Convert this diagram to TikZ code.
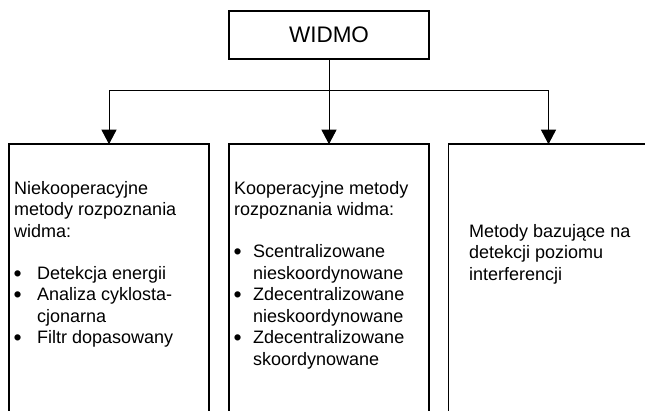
\documentclass[tikz,border=0pt]{standalone}
\usepackage{fontspec}
\setmainfont{Liberation Sans}
\usepackage{tikz}
\usetikzlibrary{arrows.meta,positioning}
\newcommand{\punkt}[1]{\makebox[#1][l]{\hspace*{-0.5pt}\raisebox{-1.6pt}{\fontsize{23}{0}\selectfont\textbullet}}}

\begin{document}
\begin{tikzpicture}[
    x=1pt, y=-1pt,
    topbox/.style={rectangle, draw, line width=1.6pt, minimum width=200pt,
        minimum height=48pt, inner sep=0pt, outer sep=0pt,
        font=\fontsize{22.5}{26}\selectfont},
    methodbox/.style={rectangle, draw, line width=1.6pt, minimum width=200pt,
        minimum height=320pt, inner sep=0pt, outer sep=0pt},
    desc/.style={align=left, inner sep=0pt, font=\fontsize{18}{21.5}\selectfont},
    arr/.style={-{Triangle[length=14.5pt, width=15pt]}, line width=1pt}
]
    \path[fill=white, use as bounding box] (0,0) rectangle (645,410);
    \clip (0,0) rectangle (645,410);

    \node[topbox] (widmo) at (329,35.2) {WIDMO};
    \node[methodbox, below=85pt of widmo] (koop) {};
    \node[methodbox, left=20pt of koop] (niekoop) {};
    \node[methodbox, right=19.5pt of koop] (interf) {};

    \coordinate (rozgal) at (329,90);
    \draw[arr] (widmo) -- (koop);
    \draw[arr] (rozgal) -| (niekoop);
    \draw[arr] (rozgal) -| (interf);

    \node[desc, below right=35pt and 5pt of niekoop.north west] (niekooptxt)
        {\strut Niekooperacyjne\\ metody rozpoznania\\ widma:\\[20.5pt]
         \punkt{23pt}Detekcja energii\\ \punkt{23pt}Analiza cyklosta-\\
         \hspace*{23pt}cjonarna\\ \punkt{23pt}Filtr dopasowany};
    \node[desc, below right=35pt and 5pt of koop.north west] (kooptxt)
        {\strut Kooperacyjne metody\\ rozpoznania widma:\\[20.5pt]
         \punkt{19pt}Scentralizowane\\ \hspace*{19pt}nieskoordynowane\\
         \punkt{19pt}Zdecentralizowane\\ \hspace*{19pt}nieskoordynowane\\
         \punkt{19pt}Zdecentralizowane\\ \hspace*{19pt}skoordynowane};
    \node[desc, below right=78pt and 20.5pt of interf.north west] (interftxt)
        {\strut Metody bazujące na\\ detekcji poziomu\\ interferencji};
\end{tikzpicture}
\end{document}
